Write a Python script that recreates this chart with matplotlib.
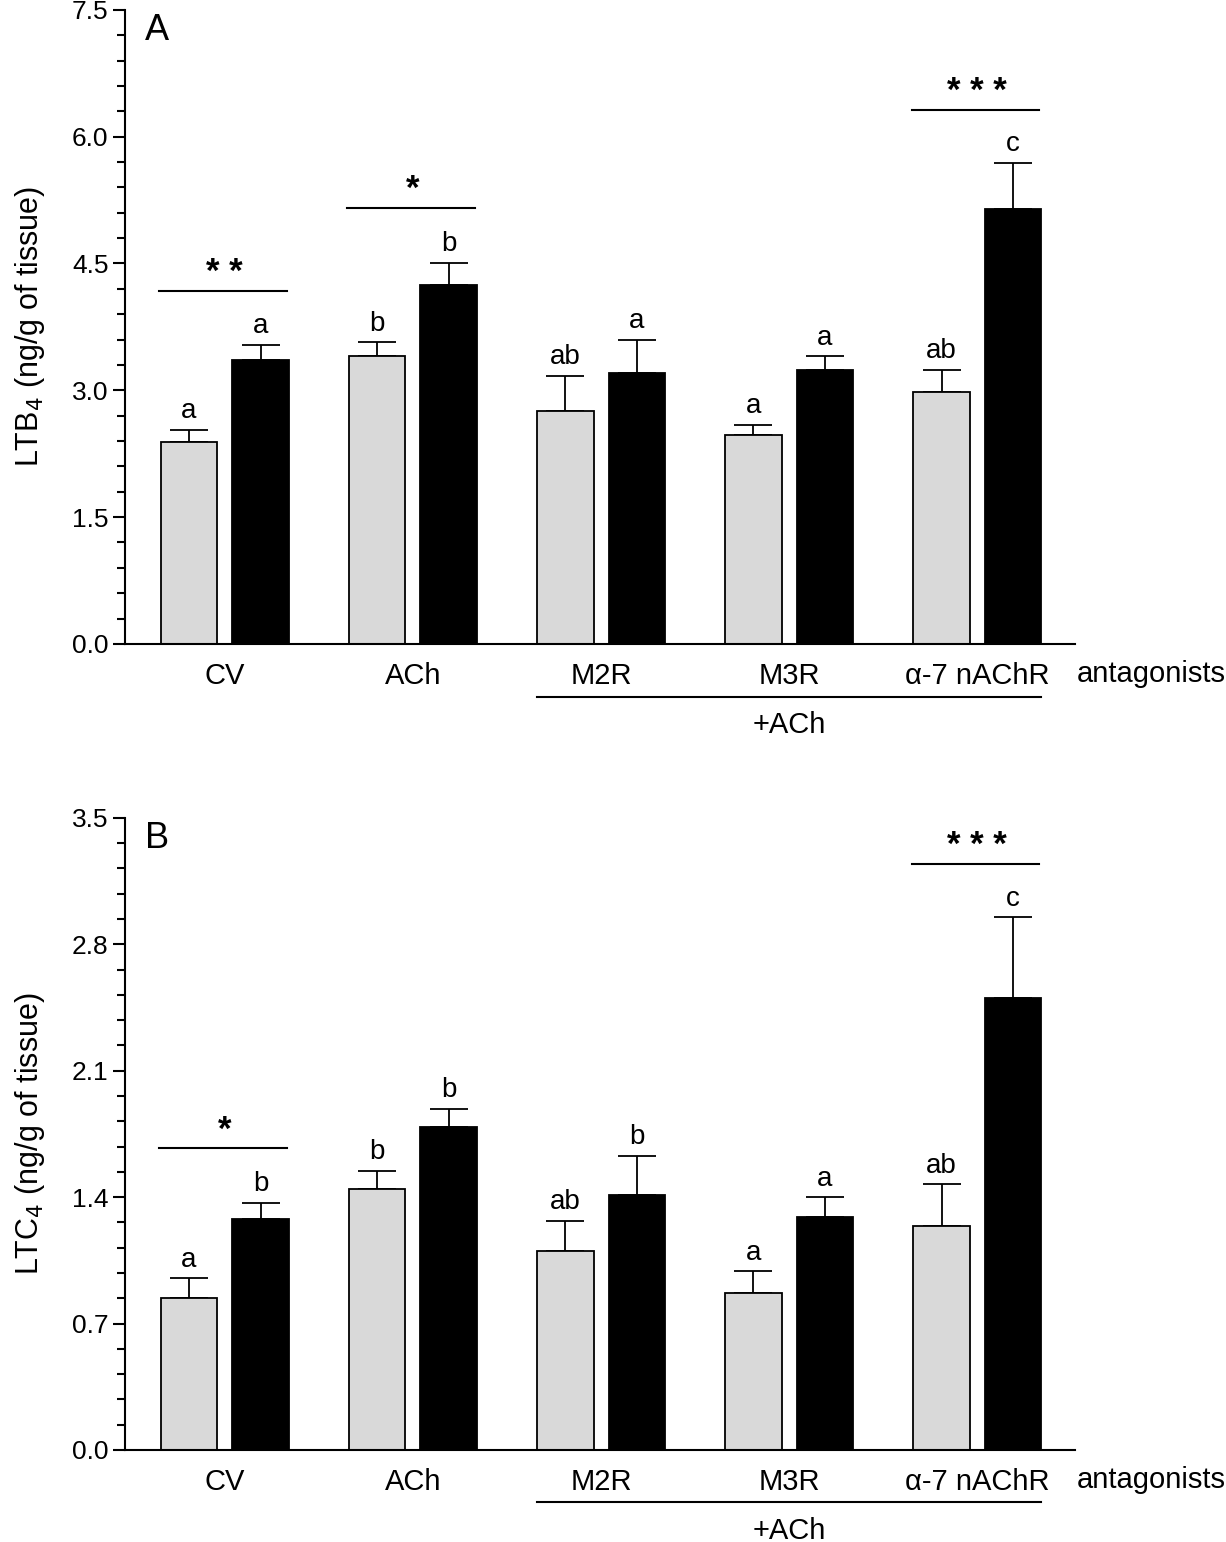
import matplotlib
matplotlib.use("Agg")
import matplotlib.pyplot as plt
import numpy as np
from matplotlib.ticker import MultipleLocator

plt.rcParams['font.family'] = ['Liberation Sans', 'DejaVu Sans']

categories = ["CV", "ACh", "M2R", "M3R", "α-7 nAChR"]

# Panel A: LTB4
ltb4_gray = [2.39, 3.40, 2.75, 2.47, 2.98]
ltb4_gray_err = [0.14, 0.17, 0.42, 0.12, 0.26]
ltb4_black = [3.36, 4.24, 3.20, 3.24, 5.14]
ltb4_black_err = [0.18, 0.27, 0.40, 0.16, 0.55]
ltb4_gray_letters = ["a", "b", "ab", "a", "ab"]
ltb4_black_letters = ["a", "b", "a", "a", "c"]
ltb4_sig = {0: ("* *", 4.18, 4.43), 1: ("*", 5.16, 5.42), 4: ("* * *", 6.32, 6.57)}

# Panel B: LTC4
ltc4_gray = [0.84, 1.445, 1.10, 0.87, 1.24]
ltc4_gray_err = [0.11, 0.10, 0.17, 0.12, 0.23]
ltc4_black = [1.28, 1.79, 1.41, 1.29, 2.50]
ltc4_black_err = [0.09, 0.10, 0.22, 0.11, 0.45]
ltc4_gray_letters = ["a", "b", "ab", "a", "ab"]
ltc4_black_letters = ["b", "b", "b", "a", "c"]
ltc4_sig = {0: ("*", 1.67, 1.79), 4: ("* * *", 3.245, 3.36)}

fig = plt.figure(figsize=(12.26, 15.42), dpi=100)
axA = fig.add_axes([0.102, 0.5824, 0.775, 0.4112])
axB = fig.add_axes([0.102, 0.0597, 0.775, 0.4099])

x = np.arange(len(categories))
w = 0.30
off = 0.19

def draw(ax, gray, gerr, black, berr, glet, blet, sig, ymax, major, minor, ylabel, panel):
    ax.bar(x - off, gray, w, color="#d9d9d9", edgecolor="black", linewidth=1.3, zorder=2)
    ax.bar(x + off, black, w, color="black", edgecolor="black", linewidth=1.3, zorder=2)
    ax.errorbar(x - off, gray, yerr=[np.zeros(len(gray)), gerr], fmt="none", ecolor="black",
                elinewidth=1.3, capsize=14, capthick=1.3, zorder=1)
    ax.errorbar(x + off, black, yerr=[np.zeros(len(black)), berr], fmt="none", ecolor="black",
                elinewidth=1.3, capsize=14, capthick=1.3, zorder=1)
    for i in range(len(categories)):
        ax.annotate(glet[i], (x[i] - off, gray[i] + gerr[i]), xytext=(0, 4), textcoords="offset points",
                    ha="center", va="bottom", fontsize=20)
        ax.annotate(blet[i], (x[i] + off, black[i] + berr[i]), xytext=(0, 4), textcoords="offset points",
                    ha="center", va="bottom", fontsize=20)
    for i, (s, ly, sy) in sig.items():
        ax.plot([x[i] - off - w / 2 - 0.01, x[i] + off + w / 2 - 0.01], [ly, ly], color="black", lw=1.5)
        ax.text(x[i], ly + (sy - ly) * 0.08, s, ha="center", va="bottom", fontsize=25, fontweight="bold")
    ax.set_xlim(-0.53, 4.52)
    ax.set_ylim(0, ymax)
    ax.yaxis.set_major_locator(MultipleLocator(major))
    ax.yaxis.set_minor_locator(MultipleLocator(minor))
    ax.yaxis.set_major_formatter(matplotlib.ticker.FormatStrFormatter("%.1f"))
    ax.tick_params(axis="y", which="major", length=9, width=1.5, labelsize=19, pad=3)
    ax.tick_params(axis="y", which="minor", length=6, width=1.5)
    ax.tick_params(axis="x", length=0, labelsize=21, pad=13)
    ax.set_xticks(x)
    ax.set_xticklabels(categories)
    for sp in ["top", "right"]:
        ax.spines[sp].set_visible(False)
    ax.spines["left"].set_linewidth(1.5)
    ax.spines["bottom"].set_linewidth(1.5)
    ax.set_ylabel(ylabel, fontsize=22, labelpad=18)
    ax.text(0.021, 0.995, panel, transform=ax.transAxes, fontsize=26, ha="left", va="top")
    # antagonists label
    ax.text(4.925, -0.047, "antagonists", transform=ax.get_xaxis_transform(), ha="center",
            va="center", fontsize=21, clip_on=False)
    # +ACh underline
    ax.plot([x[2] - off - w / 2, x[4] + off + w / 2], [-0.083, -0.083], transform=ax.get_xaxis_transform(),
            color="black", lw=1.5, clip_on=False)
    ax.text(x[3], -0.128, "+ACh", transform=ax.get_xaxis_transform(), ha="center", va="center",
            fontsize=21, clip_on=False)

draw(axA, ltb4_gray, ltb4_gray_err, ltb4_black, ltb4_black_err, ltb4_gray_letters, ltb4_black_letters,
     ltb4_sig, 7.5, 1.5, 0.3, r"LTB$_4$ (ng/g of tissue)", "A")
draw(axB, ltc4_gray, ltc4_gray_err, ltc4_black, ltc4_black_err, ltc4_gray_letters, ltc4_black_letters,
     ltc4_sig, 3.5, 0.7, 0.14, r"LTC$_4$ (ng/g of tissue)", "B")

fig.savefig("out.png", dpi=100)
